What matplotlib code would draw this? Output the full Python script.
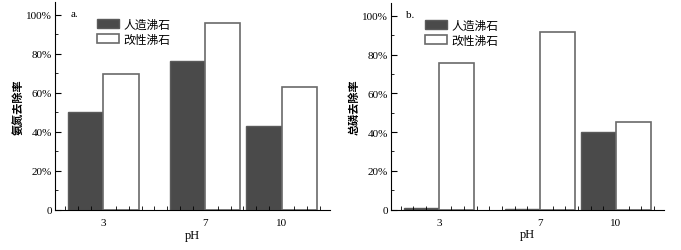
import numpy as np
import matplotlib
matplotlib.use('Agg')
import matplotlib.pyplot as plt
from matplotlib.ticker import MultipleLocator, FixedLocator

plt.rcParams['font.family'] = ['Liberation Serif', 'Noto Sans CJK SC']
plt.rcParams['font.size'] = 8

# data
ph = [3, 7, 10]
labels = ['人造沸石', '改性沸石']
nh_artificial = [0.50, 0.764, 0.43]
nh_modified = [0.695, 0.957, 0.628]
tp_artificial = [0.008, 0.005, 0.40]
tp_modified = [0.755, 0.917, 0.452]

panels = [
    ('a.', '氨氮去除率', nh_artificial, nh_modified, [0.0808, 0.1594, 0.4038, 0.829], 0.152),
    ('b.', '总磷去除率', tp_artificial, tp_modified, [0.5737, 0.1606, 0.4013, 0.823], 0.125),
]

fig = plt.figure(figsize=(6.81, 2.51), dpi=100)
bw = 1.38
for tag, ylab, dark, light, rect, legx in panels:
    ax = fig.add_axes(rect)
    ax.bar(ph, dark, width=-bw, align='edge', color='#4a4a4a', edgecolor='#5a5a5a', linewidth=1.0, label=labels[0])
    ax.bar(ph, light, width=bw, align='edge', color='white', edgecolor='#6a6a6a', linewidth=1.2, label=labels[1])
    ax.set_xlim(1.1, 11.9)
    ax.set_ylim(0, 1.065)
    ax.spines['top'].set_visible(False)
    ax.spines['right'].set_visible(False)
    ax.set_yticks([0, 0.2, 0.4, 0.6, 0.8, 1.0])
    ax.set_yticklabels(['0', '20%', '40%', '60%', '80%', '100%'])
    ax.yaxis.set_minor_locator(MultipleLocator(0.1))
    ax.set_xticks(ph)
    ax.set_xticklabels([str(p) for p in ph])
    ax.xaxis.set_minor_locator(FixedLocator(np.arange(1.5, 12, 0.5)))
    ax.tick_params(axis='x', which='major', length=0, pad=6)
    ax.tick_params(axis='x', which='minor', direction='in', length=3)
    ax.tick_params(axis='y', which='major', direction='in', length=4, pad=2)
    ax.tick_params(axis='y', which='minor', direction='in', length=2)
    ax.set_xlabel('pH', fontsize=9, labelpad=1)
    ax.set_ylabel(ylab, fontsize=8, fontweight='bold', labelpad=2)
    ax.text(0.055, 0.965, tag, transform=ax.transAxes, fontsize=8, va='top')
    ax.legend(loc='upper left', bbox_to_anchor=(legx, 0.92), frameon=False,
              handlelength=1.9, handleheight=0.9, handletextpad=0.35,
              labelspacing=0.25, borderpad=0, borderaxespad=0, fontsize=8.5)

fig.savefig('out.png', dpi=100)
